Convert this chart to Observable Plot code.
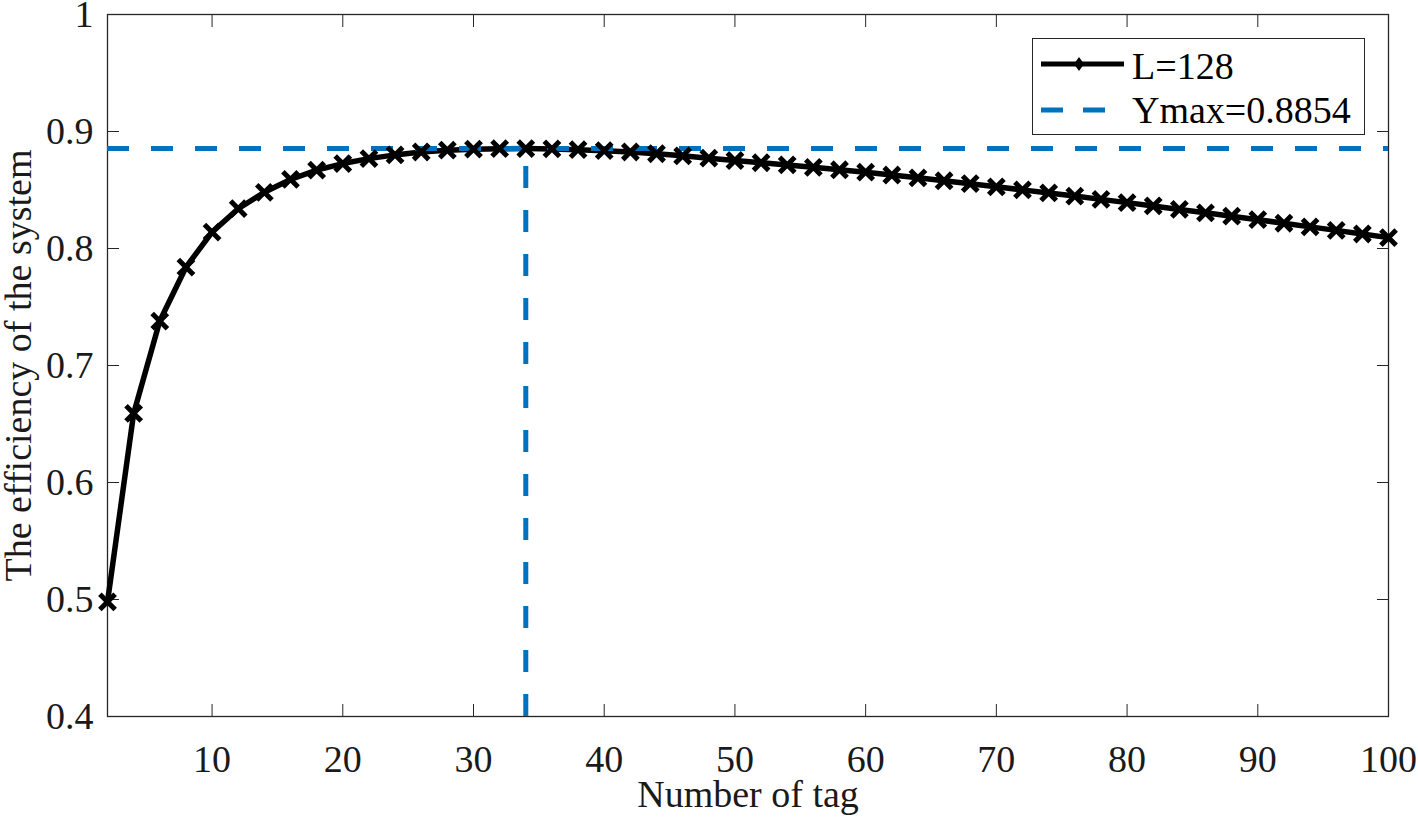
<!DOCTYPE html>
<html>
<head>
<meta charset="utf-8">
<script src="https://cdn.jsdelivr.net/npm/d3@7"></script>
<script src="https://cdn.jsdelivr.net/npm/@observablehq/plot@0.6"></script>
<style>
  html, body { margin: 0; padding: 0; background: #fff; }
  #wrap { position: relative; width: 1418px; height: 822px; }
  #legend {
    position: absolute; left: 1032px; top: 38px; width: 333px; height: 97px;
    border: 1.3px solid #262626; background: #fff; box-sizing: border-box;
    font-family: "Liberation Serif", "Times New Roman", serif; font-size: 38px; color: #000;
  }
  #legend svg { position: absolute; left: 0; top: 0; }
</style>
</head>
<body>
<div id="wrap"></div>
<script>
// Data
const tags = [2,4,6,8,10,12,14,16,18,20,22,24,26,28,30,32,34,36,38,40,42,44,46,48,50,52,54,56,58,60,62,64,66,68,70,72,74,76,78,80,82,84,86,88,90,92,94,96,98,100];
const efficiency = [0.498,0.659,0.738,0.784,0.814,0.834,0.848,0.859,0.867,0.8726,0.8768,0.8800,0.8825,0.8840,0.8849,0.8853,0.8854,0.8851,0.8845,0.8836,0.8825,0.8810,0.8792,0.8772,0.8752,0.8733,0.8714,0.8694,0.8673,0.8652,0.8628,0.8604,0.8579,0.8554,0.8527,0.8501,0.8475,0.8448,0.8420,0.8392,0.8364,0.8334,0.8305,0.8276,0.8246,0.8216,0.8185,0.8155,0.8124,0.8093];
const peakTag = 34;
const ymax = 0.8854;
const xTicks = [10,20,30,40,50,60,70,80,90,100];
const yTicks = [0.4,0.5,0.6,0.7,0.8,0.9,1];
const legendLabels = ["L=128", "Ymax=0.8854"];
const blue = "#0072BD";
const axisColor = "#262626";

const data = tags.map((t, i) => ({tag: t, eff: efficiency[i]}));
const yFmt = d => d === 1 ? "1" : d.toFixed(1);

const chart = Plot.plot({
  width: 1418,
  height: 822,
  marginLeft: 107,
  marginRight: 30,
  marginTop: 14,
  marginBottom: 106,
  style: {fontFamily: '"Liberation Serif", "Times New Roman", serif', fontSize: "38px", color: axisColor, background: "#fff", overflow: "visible"},
  x: {domain: [2, 100]},
  y: {domain: [0.4, 1]},
  marks: [
    Plot.frame({stroke: axisColor, strokeWidth: 1.3}),
    Plot.axisX(xTicks, {anchor: "bottom", tickSize: -12, tickPadding: 41, stroke: axisColor, fill: "#1a1a1a",
      label: "Number of tag", labelAnchor: "center", labelArrow: "none", labelOffset: 90}),
    Plot.axisX(xTicks, {anchor: "top", tickSize: -12, tickFormat: () => "", label: null, stroke: axisColor}),
    Plot.axisY(yTicks, {anchor: "left", tickSize: -12, tickPadding: 26, tickFormat: yFmt, stroke: axisColor, fill: "#1a1a1a",
      label: "The efficiency of the system", labelAnchor: "center", labelArrow: "none", labelOffset: 103}),
    Plot.axisY(yTicks, {anchor: "right", tickSize: -12, tickFormat: () => "", label: null, stroke: axisColor}),
    Plot.line(data, {x: "tag", y: "eff", stroke: "#000", strokeWidth: 5.5}),
    Plot.ruleY([ymax], {stroke: blue, strokeWidth: 5, strokeDasharray: "22,22"}),
    Plot.ruleX([peakTag], {y1: 0.4, y2: ymax, stroke: blue, strokeWidth: 5, strokeDasharray: "22,22"}),
    Plot.dot(data, {x: "tag", y: "eff", symbol: "times", r: 7, stroke: "#000", strokeWidth: 5})
  ]
});

const wrap = document.getElementById("wrap");
wrap.appendChild(chart);

// Legend (HTML overlay)
const legend = document.createElement("div");
legend.id = "legend";
legend.innerHTML = `
<svg width="333" height="97">
  <line x1="8" y1="25" x2="91" y2="25" stroke="#000" stroke-width="5"/>
  <path d="M46,18 L51,25 L46,32 L41,25 Z" fill="#000"/>
  <line x1="8" y1="71" x2="92" y2="71" stroke="${blue}" stroke-width="5" stroke-dasharray="22,20"/>
  <text x="99" y="40" font-family='"Liberation Serif", "Times New Roman", serif' font-size="38">${legendLabels[0]}</text>
  <text x="99" y="84" font-family='"Liberation Serif", "Times New Roman", serif' font-size="38">${legendLabels[1]}</text>
</svg>`;
wrap.appendChild(legend);
</script>
</body>
</html>
